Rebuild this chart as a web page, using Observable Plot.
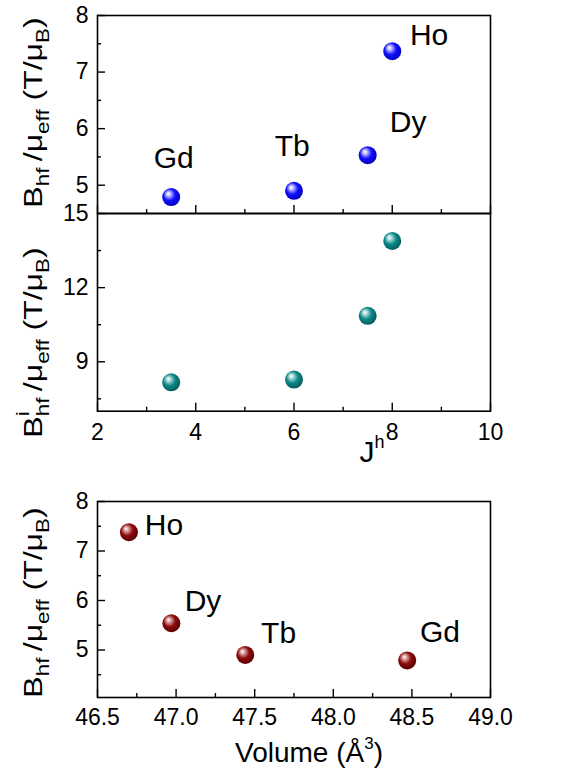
<!DOCTYPE html>
<html><head><meta charset="utf-8">
<script src="https://cdn.jsdelivr.net/npm/d3@7"></script>
<script src="https://cdn.jsdelivr.net/npm/@observablehq/plot@0.6"></script>
<style>
body{margin:0;background:#fff;}
#chart{position:relative;width:567px;height:774px;font-family:"Liberation Sans",Arial,sans-serif;}
#chart svg{position:absolute;left:0;top:0;}
</style></head><body><div id="chart"></div>
<script>
// ---- data ----
const elements = ["Gd", "Tb", "Dy", "Ho"];
const jValues = [3.5, 6, 7.5, 8];
const bhfPerMu = [4.79, 4.90, 5.53, 7.37];
const bihfPerMu = [8.17, 8.28, 10.86, 13.89];
const volumes = [48.47, 47.44, 46.97, 46.70];
const bhfPerMuVol = [4.79, 4.90, 5.54, 7.38];

const topYTicks = [5, 6, 7, 8];
const topYMinor = [5.5, 6.5, 7.5];
const midYTicks = [9, 12, 15];
const midYMinor = [7.5, 10.5, 13.5];
const jTicks = [2, 4, 6, 8, 10];
const jMinor = [3, 5, 7, 9];
const botYTicks = [5, 6, 7, 8];
const botYMinor = [4.5, 5.5, 6.5, 7.5];
const volTicks = [46.5, 47.0, 47.5, 48.0, 48.5, 49.0];
const volMinor = [46.75, 47.25, 47.75, 48.25, 48.75];

const rowsJ = elements.map((e, i) => ({el: e, j: jValues[i], b: bhfPerMu[i], bi: bihfPerMu[i]}));
const rowsV = elements.map((e, i) => ({el: e, v: volumes[i], b: bhfPerMuVol[i]}));

const FONT = '"Liberation Sans", Arial, sans-serif';
const W = 567, H = 774;
const TICK_FONT = 23;

function gradients(svg) {
  const defs = d3.select(svg).insert("defs", ":first-child");
  const specs = [["g-blue", "#d0d0ff", "#1010ff", "#0000b8"],
                 ["g-teal", "#c0e4e4", "#0a8888", "#055a5a"],
                 ["g-red", "#e8b8b8", "#8c0a0a", "#560000"]];
  for (const [id, light, base, dark] of specs) {
    const g = defs.append("radialGradient").attr("id", id)
      .attr("cx", "0.45").attr("cy", "0.42").attr("r", "0.6")
      .attr("fx", "0.33").attr("fy", "0.3");
    g.append("stop").attr("offset", "0").attr("stop-color", "#ffffff");
    g.append("stop").attr("offset", "0.16").attr("stop-color", light);
    g.append("stop").attr("offset", "0.55").attr("stop-color", base);
    g.append("stop").attr("offset", "1").attr("stop-color", dark);
  }
}

function panel({data, x, y, xDomain, yDomain, yTicks, yMinor, xTicks, xMinor, xLabels, xFormat, xPad,
                marginTop, marginBottom, grad, labelOffsets}) {
  const marks = [
    Plot.axisY({ticks: yTicks, tickSize: -8, tickPadding: 17, fontSize: TICK_FONT, tickFormat: d => String(d), label: null, strokeWidth: 1.4}),
    Plot.axisY({ticks: yMinor, tickSize: -4, tickFormat: () => "", label: null, strokeWidth: 1.4}),
    Plot.axisX({ticks: xTicks, tickSize: -8, tickPadding: xPad, fontSize: TICK_FONT, label: null, strokeWidth: 1.4,
                tickFormat: xLabels ? xFormat : () => ""}),
    Plot.axisX({ticks: xMinor, tickSize: -4, tickFormat: () => "", label: null, strokeWidth: 1.4}),
    Plot.frame({stroke: "#000", strokeWidth: 1.6}),
    Plot.dot(data, {x, y, r: 9, fill: `url(#${grad})`, stroke: "none"})
  ];
  if (labelOffsets) {
    for (const [el, [dx, dy]] of Object.entries(labelOffsets)) {
      marks.push(Plot.text(data.filter(d => d.el === el), {x, y, text: "el", dx, dy, fontSize: 30,
        textAnchor: "middle", lineAnchor: "middle", fill: "#000"}));
    }
  }
  const svg = Plot.plot({
    width: W, height: H, marginLeft: 97, marginRight: 77, marginTop, marginBottom,
    x: {domain: xDomain}, y: {domain: yDomain},
    style: {background: "transparent", overflow: "visible", fontFamily: FONT, color: "#000"},
    marks
  });
  d3.select(svg).selectAll('g[aria-label$="tick label"]').style("font-size", TICK_FONT + "px");
  return svg;
}

const chart = document.getElementById("chart");

const pTop = panel({data: rowsJ, x: "j", y: "b", xDomain: [2, 10], yDomain: [4.5, 8],
  yTicks: topYTicks, yMinor: topYMinor, xTicks: jTicks, xMinor: jMinor, xLabels: false, xPad: 20,
  marginTop: 15, marginBottom: H - 213, grad: "g-blue",
  labelOffsets: {Gd: [2.6, -39], Tb: [-1.8, -44.7], Dy: [40.4, -32.5], Ho: [36.8, -16.2]}});
const pMid = panel({data: rowsJ, x: "j", y: "bi", xDomain: [2, 10], yDomain: [7, 15],
  yTicks: midYTicks, yMinor: midYMinor, xTicks: jTicks, xMinor: jMinor, xLabels: true, xFormat: d => String(d), xPad: 20,
  marginTop: 213, marginBottom: H - 410.7, grad: "g-teal", labelOffsets: null});
const pBot = panel({data: rowsV, x: "v", y: "b", xDomain: [46.5, 49], yDomain: [4.04, 8],
  yTicks: botYTicks, yMinor: botYMinor, xTicks: volTicks, xMinor: volMinor, xLabels: true, xFormat: d3.format(".1f"), xPad: 19,
  marginTop: 501, marginBottom: H - 697, grad: "g-red",
  labelOffsets: {Ho: [35, -6.7], Dy: [31.6, -22], Tb: [33.3, -21.5], Gd: [32.8, -28.3]}});

for (const p of [pTop, pMid, pBot]) chart.appendChild(p);
gradients(pTop);

// ---- axis titles (rich text with sub/superscripts) ----
const ov = d3.select(pBot);
function yTitle(cy, withI) {
  const f = 32, s = 0.7;
  const t = ov.append("text")
    .attr("transform", `translate(41.7,${cy}) rotate(-90) scale(1,0.8)`)
    .attr("text-anchor", "middle").attr("font-family", FONT).attr("font-size", f).attr("fill", "#000");
  t.append("tspan").text("B");
  if (withI) {
    t.append("tspan").attr("font-size", f * s).attr("dy", -0.5 * f).text("i");
    t.append("tspan").attr("font-size", f * s).attr("dy", 0.78 * f).attr("dx", -0.222 * f * s).text("hf");
  } else {
    t.append("tspan").attr("font-size", f * s).attr("dy", 0.28 * f).text("hf");
  }
  t.append("tspan").attr("dy", -0.28 * f).text("\u2009/\u03bc");
  t.append("tspan").attr("font-size", f * s).attr("dy", 0.28 * f).text("eff");
  t.append("tspan").attr("dy", -0.28 * f).text(" (T/\u03bc");
  t.append("tspan").attr("font-size", f * s).attr("dy", 0.28 * f).text("B");
  t.append("tspan").attr("dy", -0.28 * f).text(")");
}
yTitle(112.5, false);
yTitle(342.5, true);
yTitle(602.5, false);

// x titles
const jt = ov.append("text").attr("x", 372).attr("y", 462).attr("text-anchor", "middle")
  .attr("font-family", FONT).attr("font-size", 30).attr("fill", "#000");
jt.append("tspan").text("J");
jt.append("tspan").attr("font-size", 18).attr("dy", -14).text("h");

const vt = ov.append("text").attr("x", 309).attr("y", 762).attr("text-anchor", "middle")
  .attr("font-family", FONT).attr("font-size", 28).attr("fill", "#000");
vt.append("tspan").text("Volume (\u00c5");
vt.append("tspan").attr("font-size", 17).attr("dy", -13).text("3");
vt.append("tspan").attr("font-size", 28).attr("dy", 13).text(")");
</script></body></html>
